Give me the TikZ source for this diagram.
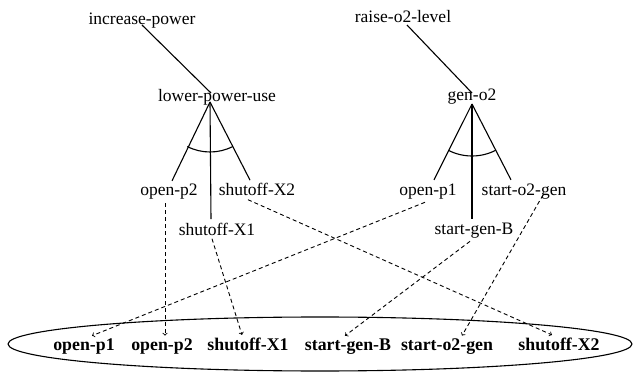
\documentclass[tikz,border=0pt]{standalone}
\usepackage{fontspec}
\setmainfont{Liberation Serif}
\usepackage{tikz}
\usetikzlibrary{positioning}

\begin{document}
\begin{tikzpicture}[x=1pt, y=1pt, line width=1.1pt,
    goal/.style={inner sep=3pt, anchor=base, font=\fontsize{17.5}{21}\selectfont},
    prim/.style={inner sep=2pt, anchor=base, font=\fontsize{17.8}{21}\selectfont\bfseries},
    dep/.style={->, line width=0.9pt, dash pattern=on 4pt off 3pt}]
    \useasboundingbox (0,0) rectangle (633,373);

    % Top goals
    \node[goal] (incpow) at (142,348) {increase-power};
    \node[goal] (raiseo2) at (403,350) {raise-o2-level};

    % Subgoals
    \node[goal] (lowpow) at (217,271) {lower-power-use};
    \node[goal] (geno2) at (472,272) {gen-o2};

    \draw (incpow.base) -- ([xshift=-6pt,yshift=9pt]lowpow.base);
    \draw ([xshift=4pt,yshift=-2pt]raiseo2.base) -- ([yshift=8pt]geno2.base);

    % AND branches of lower-power-use
    \node[goal] (openp2) at (169,177) {open-p2};
    \node[goal] (shutx2) at (257,177) {shutoff-X2};
    \node[goal] (shutx1) at (217,138) {shutoff-X1};

    \draw ([xshift=-7pt]lowpow.base) -- ([xshift=3pt]openp2.north);
    \draw ([xshift=-7pt]lowpow.base) -- ([xshift=-6pt]shutx1.north);
    \draw ([xshift=-7pt]lowpow.base) -- ([xshift=-7pt]shutx2.north);
    \draw ([xshift=-7pt]lowpow.base) ++(243:50pt) arc[start angle=243, end angle=297, radius=50pt];

    % AND branches of gen-o2
    \node[goal] (openp1) at (428,178) {open-p1};
    \node[goal] (starto2) at (524,178) {start-o2-gen};
    \node[goal] (startb) at (474,139) {start-gen-B};

    \draw ([yshift=-3pt]geno2.base) -- ([xshift=6pt]openp1.north);
    \draw ([yshift=-3pt]geno2.base) -- ([xshift=-2pt]startb.north);
    \draw ([yshift=-3pt]geno2.base) -- ([xshift=-13pt]starto2.north);
    \draw ([yshift=-3pt]geno2.base) ++(243:52pt) arc[start angle=243, end angle=297, radius=52pt];

    % Primitive actions
    \draw (320,29) ellipse [x radius=312, y radius=27];
    \node[prim] (popenp1) at (84,23) {open-p1};
    \node[prim] (popenp2) at (162,23) {open-p2};
    \node[prim] (pshutx1) at (248,23) {shutoff-X1};
    \node[prim] (pstartb) at (348,23) {start-gen-B};
    \node[prim] (pstarto2) at (447,23) {start-o2-gen};
    \node[prim] (pshutx2) at (559,23) {shutoff-X2};

    % Mappings
    \draw[dep] ([xshift=-4pt]openp2.south) -- ([xshift=3pt]popenp2.north);
    \draw[dep] ([xshift=-5pt]shutx1.south) -- ([xshift=-6pt]pshutx1.north);
    \draw[dep] ([xshift=-9pt]shutx2.south) -- ([xshift=-7pt]pshutx2.north);
    \draw[dep] ([xshift=-3pt]openp1.south) -- ([xshift=8pt]popenp1.north);
    \draw[dep] ([xshift=-4pt]startb.south) -- ([xshift=-3pt]pstartb.north);
    \draw[dep] ([xshift=19pt]starto2.base) -- ([xshift=15pt]pstarto2.north);
\end{tikzpicture}
\end{document}
